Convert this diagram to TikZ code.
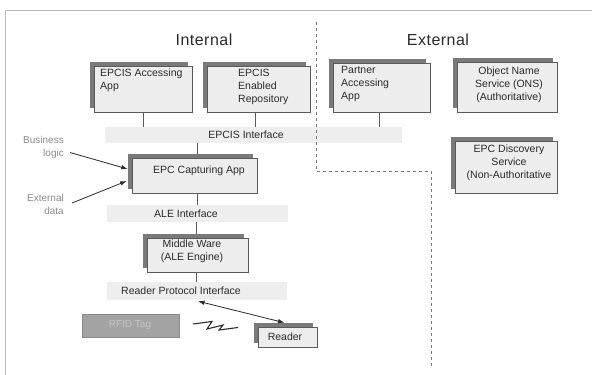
\documentclass[tikz,border=0pt]{standalone}
\usepackage{fontspec}
\setmainfont{Liberation Sans}
\usetikzlibrary{shadows,arrows.meta}
\definecolor{boxfill}{HTML}{EDEDED}
\definecolor{boxline}{HTML}{5A5A5A}
\definecolor{shadowc}{HTML}{7A7A7A}
\definecolor{bandfill}{HTML}{EEEEEE}
\definecolor{txt}{HTML}{2A2A2A}
\definecolor{lbl}{HTML}{8A8A8A}
\definecolor{tagfill}{HTML}{A3A3A3}
\definecolor{tagtxt}{HTML}{C6C6C6}
\definecolor{framec}{HTML}{BDBDBD}
\definecolor{dashc}{HTML}{777777}
\pgfdeclarelayer{back}
\pgfdeclarelayer{bg}
\pgfsetlayers{back,bg,main}
\begin{document}
\begin{tikzpicture}[x=1pt,y=-1pt,
  box/.style={draw=boxline, fill=boxfill, line width=0.6pt, inner sep=0pt,
    general shadow={fill=shadowc, shadow xshift=-4pt, shadow yshift=4pt}},
  band/.style={fill=bandfill, draw=none, inner sep=0pt},
  btxt/.style={inner sep=0pt, text=txt, font=\fontsize{10.5}{13}\selectfont},
  lbltxt/.style={inner sep=0pt, text=lbl, font=\fontsize{10}{12.5}\selectfont, align=right},
  head/.style={inner sep=0pt, text=txt, font=\fontsize{16}{19}\selectfont\addfontfeature{LetterSpace=3}},
  conn/.style={draw=boxline, line width=0.5pt},
  arr/.style={draw=txt, line width=0.8pt, -{Latex[length=6.5pt,width=4.5pt]}},
  darr/.style={draw=txt, line width=0.8pt, {Latex[length=6.5pt,width=4.5pt]}-{Latex[length=6.5pt,width=4.5pt]}},
  framel/.style={draw=framec, line width=0.8pt}
]
\useasboundingbox (0,0) rectangle (592,375);
\begin{pgfonlayer}{back}
\fill[white] (0,0) rectangle (592,375);
\end{pgfonlayer}

% frame
\coordinate (f1) at (592,10);
\coordinate (f2) at (5,10);
\coordinate (f3) at (5,375);
\draw[framel] (f1) -- (f2) -- (f3);

% headings
\node[head] (internal) at (204,40) {Internal};
\node[head] (external) at (438,40) {External};

% interface bands
\node[band, minimum width=297pt, minimum height=16pt] (epcisband) at (253.5,135) {};
\node[band, minimum width=181pt, minimum height=17pt] (aleband) at (197.5,213.5) {};
\node[band, minimum width=180pt, minimum height=18pt] (rpband) at (197,291) {};
\node[btxt] (epcistxt) at (246,135) {EPCIS Interface};
\node[btxt] (aletxt) at (186,214) {ALE Interface};
\node[btxt] (rptxt) at (181,291) {Reader Protocol Interface};

% boxes
\node[box, minimum width=98pt, minimum height=46pt] (acc) at (143,89) {};
\node[btxt, anchor=north west, align=left] (acctxt) at (100,68.5) {EPCIS Accessing\\App};
\node[box, minimum width=103pt, minimum height=46pt] (rep) at (258.5,89) {};
\node[btxt, anchor=north west, align=left] (reptxt) at (238,68.5) {EPCIS\\Enabled\\Repository};
\node[box, minimum width=97pt, minimum height=49pt] (partner) at (381.5,87.5) {};
\node[btxt, anchor=north west, align=left] (partnertxt) at (341,66) {Partner\\Accessing\\App};
\node[box, minimum width=100pt, minimum height=50pt] (ons) at (507,87) {};
\node[btxt, anchor=north, align=center] (onstxt) at (509,67) {Object Name\\Service (ONS)\\(Authoritative)};
\node[box, minimum width=102pt, minimum height=52pt] (disc) at (506,167) {};
\node[btxt, anchor=north, align=center] (disctxt) at (509,145) {EPC Discovery\\Service\\(Non-Authoritative};
\node[box, minimum width=125pt, minimum height=35pt] (cap) at (194.5,175.5) {};
\node[btxt] (captxt) at (199,171) {EPC Capturing App};
\node[box, minimum width=101pt, minimum height=34pt] (mw) at (197.5,255) {};
\node[btxt, align=center] (mwtxt) at (192,251.5) {Middle Ware\\(ALE Engine)};
\node[box, minimum width=59pt, minimum height=20pt] (reader) at (287.5,337) {};
\node[btxt] (readertxt) at (285,337) {Reader};
\node[draw=tagfill!85!black, line width=0.3pt, fill=tagfill, inner sep=0pt, minimum width=97pt, minimum height=23pt] (rfid) at (130.5,325.5) {};
\node[inner sep=0pt, text=tagtxt, font=\fontsize{10}{12}\selectfont] (rfidtxt) at (130,325) {RFID Tag};

% vertical connectors (behind boxes)
\begin{pgfonlayer}{bg}
\draw[conn] (acc.south) -- (acc.south |- epcisband.north);
\draw[conn] ([xshift=-3.5pt]rep.south) -- ([xshift=-3.5pt]rep.south |- epcisband.north);
\draw[conn] ([xshift=-2.5pt]partner.south) -- ([xshift=-2.5pt]partner.south |- epcisband.north);
\draw[conn] ([xshift=2.5pt]cap.north |- epcisband.south) -- ([xshift=2.5pt]cap.north);
\draw[conn] ([xshift=2.5pt]cap.south) -- ([xshift=2.5pt]cap.south |- aleband.north);
\draw[conn] ([xshift=-1.5pt]mw.north |- aleband.south) -- ([xshift=-1.5pt]mw.north);
\draw[conn] ([xshift=-1.5pt]mw.south) -- ([xshift=-1.5pt]mw.south |- rpband.north);
\end{pgfonlayer}

% dashed boundary
\coordinate (d1) at (316,22);
\coordinate (d3) at (431,171);
\coordinate (d4) at (431,366);
\draw[draw=dashc, line width=0.6pt, dash pattern=on 3pt off 3pt] (d1) |- (d3) -- (d4);

% side labels and arrows
\node[lbltxt, anchor=east] (buslbl) at (64,147.5) {Business\\logic};
\node[lbltxt, anchor=east] (extlbl) at (64,204.5) {External\\data};
\draw[arr] ([xshift=6pt,yshift=-5pt]buslbl.east) -- ([xshift=-4pt,yshift=6.5pt]cap.west);
\draw[arr] ([xshift=8pt,yshift=1.5pt]extlbl.east) -- ([xshift=-5pt,yshift=-5.5pt]cap.west);

% reader link
\draw[darr] ([xshift=1pt,yshift=-1pt]rpband.south) -- ([xshift=-3pt,yshift=4pt]reader.north);

% radio zigzag
\coordinate (z1) at (193,324);
\coordinate (z2) at (212,321.5);
\coordinate (z3) at (207,329);
\coordinate (z4) at (223,325);
\coordinate (z5) at (219,330);
\coordinate (z6) at (238,327.5);
\draw[draw=txt, line width=1.1pt, line join=miter] (z1) -- (z2) -- (z3) -- (z4) -- (z5) -- (z6);
\end{tikzpicture}
\end{document}
